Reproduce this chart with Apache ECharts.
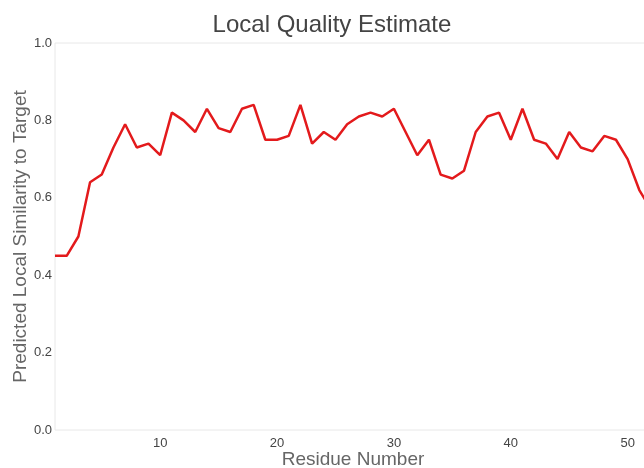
<!DOCTYPE html>
<html>
<head>
<meta charset="utf-8">
<script src="https://cdn.jsdelivr.net/npm/echarts@6/dist/echarts.min.js"></script>
<style>
  html, body { margin: 0; padding: 0; background: #fff; }
  #chart { width: 644px; height: 468px; }
</style>
</head>
<body>
<div id="chart"></div>
<script>
// Residue positions and predicted local similarity per residue
const residues = [
  1, 2, 3, 4, 5, 6, 7, 8, 9, 10,
  11, 12, 13, 14, 15, 16, 17, 18, 19, 20,
  21, 22, 23, 24, 25, 26, 27, 28, 29, 30,
  31, 32, 33, 34, 35, 36, 37, 38, 39, 40,
  41, 42, 43, 44, 45, 46, 47, 48, 49, 50,
  51, 52
];
const similarity = [
  0.45, 0.45, 0.50, 0.64, 0.66, 0.73, 0.79, 0.73, 0.74, 0.71,
  0.82, 0.80, 0.77, 0.83, 0.78, 0.77, 0.83, 0.84, 0.75, 0.75,
  0.76, 0.84, 0.74, 0.77, 0.75, 0.79, 0.81, 0.82, 0.81, 0.83,
  0.77, 0.71, 0.75, 0.66, 0.65, 0.67, 0.77, 0.81, 0.82, 0.75,
  0.83, 0.75, 0.74, 0.70, 0.77, 0.73, 0.72, 0.76, 0.75, 0.70,
  0.62, 0.57
];
const xTickValues = [10, 20, 30, 40, 50];
const yTickValues = [0, 0.2, 0.4, 0.6, 0.8, 1.0];

const chart = echarts.init(document.getElementById('chart'), null, { renderer: 'canvas' });
const font = 'Liberation Sans, Arial, Helvetica, sans-serif';

chart.setOption({
  animation: false,
  backgroundColor: '#ffffff',
  title: {
    text: 'Local Quality Estimate',
    left: 327,
    top: 8,
    textAlign: 'center',
    textStyle: { fontFamily: font, fontSize: 24, fontWeight: 'normal', color: '#444444' }
  },
  grid: {
    left: 55, right: -7, top: 43, bottom: 38,
    outerBoundsMode: 'none',
    containLabel: false,
    show: true, borderColor: '#e8e8e8', borderWidth: 1
  },
  xAxis: {
    type: 'value',
    min: 1, max: 52,
    name: 'Residue Number',
    nameLocation: 'middle',
    nameGap: 20,
    nameMoveOverlap: false,
    nameTextStyle: { fontFamily: font, fontSize: 19, color: '#666666' },
    axisLine: { show: false },
    axisTick: { show: false },
    splitLine: { show: false },
    axisLabel: {
      customValues: xTickValues,
      fontFamily: font, fontSize: 13, color: '#444444', margin: 7
    }
  },
  yAxis: {
    type: 'value',
    min: 0, max: 1,
    interval: 0.2,
    name: 'Predicted Local Similarity to Target',
    nameLocation: 'middle',
    nameGap: 25,
    nameMoveOverlap: false,
    nameTextStyle: { fontFamily: font, fontSize: 19, color: '#666666' },
    axisLine: { show: false },
    axisTick: { show: false },
    splitLine: { show: false },
    axisLabel: {
      customValues: yTickValues,
      fontFamily: font, fontSize: 13, color: '#444444', margin: 3,
      formatter: v => v.toFixed(1)
    }
  },
  series: [{
    type: 'line',
    data: residues.map((r, i) => [r, similarity[i]]),
    showSymbol: false,
    lineStyle: { color: '#e31a1c', width: 2.5 },
    itemStyle: { color: '#e31a1c' },
    clip: true
  }]
});
</script>
</body>
</html>
